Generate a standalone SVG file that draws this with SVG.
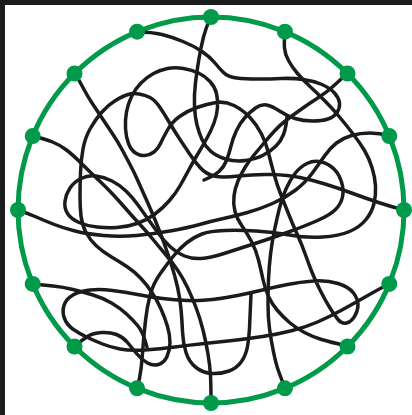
<svg xmlns="http://www.w3.org/2000/svg" width="412" height="415" viewBox="0 0 412 415">
<style>
.ring{fill:none;stroke:#009a4a;stroke-width:5}
.dot{fill:#009a4a}
.cv{fill:none;stroke:#1b1b1b;stroke-width:3.5;stroke-linecap:round;stroke-linejoin:round}
</style>
<rect x="0" y="0" width="412" height="415" fill="#ffffff"/>
<rect x="0" y="0" width="412" height="5" fill="#1c1c1c"/>
<rect x="0" y="0" width="5" height="415" fill="#1c1c1c"/>
<circle class="ring" cx="211" cy="210" r="193"/>
<g id="connectors">
<path class="cv" d="M33,136 Q45,139 52.5,142 Q60,145 66.5,150 Q73,155 81.5,163.5 Q90,172 98.5,180 Q107,188 113.5,195 Q120,202 126.5,209.5 Q133,217 140,224.5 Q147,232 153.5,240 Q160,248 166,255 Q172,262 177.5,270 Q183,278 187.5,287.5 Q192,297 196,307.5 Q200,318 203,330 Q206,342 208,354 Q210,366 210.5,376 Q211,386 211,403"/>
<path class="cv" d="M137,32 Q152,32 162,34.5 Q172,37 183,41.5 Q194,46 202,51.5 Q210,57 214.5,62.5 Q219,68 223.5,72.5 Q228,77 236.5,78 Q245,79 257.5,79 Q270,79 281.5,78.5 Q293,78 303.5,79.5 Q314,81 322,84.5 Q330,88 334.5,93 Q339,98 339.5,103 Q340,108 337,112.5 Q334,117 328,119 Q322,121 312.5,121 Q303,121 295,118.5 Q287,116 279.5,111 Q272,106 266.5,105 Q261,104 255.5,108 Q250,112 245,117.5 Q240,123 236.5,130.5 Q233,138 231,146 Q229,154 226.5,160.5 Q224,167 219,171.5 Q214,176 204,180"/>
<path class="cv" d="M211,17 Q206,27 203.5,37 Q201,47 199,58.5 Q197,70 195.5,82.5 Q194,95 194.5,106 Q195,117 197,125 Q199,133 202,139.5 Q205,146 210.5,151 Q216,156 225.5,159 Q235,162 245.5,160.5 Q256,159 263.5,155 Q271,151 276,146 Q281,141 283.5,134.5 Q286,128 287,117"/>
<path class="cv" d="M347,74 Q340,80 333.5,86 Q327,92 318.5,97.5 Q310,103 301.5,109 Q293,115 286.5,120 Q280,125 274.5,131 Q269,137 264,143 Q259,149 254,155 Q249,161 245,167.5 Q241,174 238,181 Q235,188 234,196 Q233,204 235,211.5 Q237,219 242,226 Q247,233 251.5,241.5 Q256,250 258.5,260 Q261,270 263,279.5 Q265,289 268.5,296.5 Q272,304 277.5,310.5 Q283,317 289.5,322.5 Q296,328 304.5,332.5 Q313,337 321.5,339.5 Q330,342 347,346"/>
<path class="cv" d="M75,346 Q82,340 87.5,336.5 Q93,333 101.5,332.5 Q110,332 116.5,334.5 Q123,337 127.5,342.5 Q132,348 137,354 Q142,360 147.5,363 Q153,366 158.5,364.5 Q164,363 167,356.5 Q170,350 170,342.5 Q170,335 167.5,326.5 Q165,318 161,309 Q157,300 152,292.5 Q147,285 141,278.5 Q135,272 127.5,267 Q120,262 111.5,257 Q103,252 96.5,246 Q90,240 86,232.5 Q82,225 81,216 Q80,207 80,196 Q80,185 80.5,172.5 Q81,160 83,149 Q85,138 90,129 Q95,120 101.5,112.5 Q108,105 115.5,100.5 Q123,96 128,94.5 Q133,93 139,94 Q145,95 150,97.5 Q155,100 160,107.5 Q165,115 170,123.5 Q175,132 180,139.5 Q185,147 190,154.5 Q195,162 200.5,168 Q206,174 214,176 Q222,178 238.5,176 Q255,174 271.5,174.5 Q288,175 300,177.5 Q312,180 325,184 Q338,188 351.5,193 Q365,198 378.5,202.5 Q392,207 404,210"/>
<path class="cv" d="M389,284 Q379,289 366,296.5 Q353,304 341,310.5 Q329,317 317.5,322 Q306,327 292.5,330.5 Q279,334 262.5,336.5 Q246,339 232.5,340.5 Q219,342 204.5,343.5 Q190,345 175,347 Q160,349 145,350 Q130,351 120,349 Q110,347 102.5,344 Q95,341 87.5,337.5 Q80,334 73.5,329.5 Q67,325 64.5,318.5 Q62,312 64,305.5 Q66,299 73,295 Q80,291 90,290 Q100,289 112.5,290.5 Q125,292 137.5,294.5 Q150,297 162.5,298.5 Q175,300 187.5,300.5 Q200,301 212.5,299.5 Q225,298 237.5,295.5 Q250,293 262.5,290 Q275,287 287.5,284.5 Q300,282 313.5,281 Q327,280 338,283.5 Q349,287 353.5,293 Q358,299 358,305 Q358,311 354.5,316.5 Q351,322 346.5,323 Q342,324 338.5,320 Q335,316 330,308 Q325,300 320,290 Q315,280 311.5,271 Q308,262 305,253.5 Q302,245 297.5,235 Q293,225 289,215 Q285,205 281,195 Q277,185 274,174 Q271,163 268.5,153 Q266,143 261.5,134 Q257,125 250,117.5 Q243,110 234,105.5 Q225,101 216,102.5 Q207,104 197,107.5 Q187,111 179.5,116.5 Q172,122 167.5,130 Q163,138 160.5,143.5 Q158,149 154,152 Q150,155 145,155.5 Q140,156 135.5,153 Q131,150 128.5,143.5 Q126,137 125.5,128.5 Q125,120 126.5,112 Q128,104 131.5,96.5 Q135,89 141,83 Q147,77 153.5,73.5 Q160,70 167.5,68.5 Q175,67 183.5,68.5 Q192,70 198.5,73 Q205,76 210,81.5 Q215,87 216.5,93.5 Q218,100 217.5,107.5 Q217,115 214,123 Q211,131 206.5,139 Q202,147 197.5,154.5 Q193,162 189,169.5 Q185,177 180.5,185 Q176,193 169.5,200.5 Q163,208 155,214 Q147,220 137,223.5 Q127,227 117,227.5 Q107,228 97,227 Q87,226 79,222.5 Q71,219 67.5,213.5 Q64,208 65,201 Q66,194 70,188 Q74,182 81,178.5 Q88,175 96,176 Q104,177 112,181 Q120,185 126.5,191.5 Q133,198 138,205 Q143,212 148,219 Q153,226 158.5,233.5 Q164,241 170.5,247 Q177,253 184.5,256 Q192,259 201,258.5 Q210,258 224,253.5 Q238,249 255,243.5 Q272,238 288.5,232 Q305,226 317.5,220.5 Q330,215 335.5,209.5 Q341,204 342.5,197 Q344,190 341.5,182 Q339,174 334,169 Q329,164 321.5,162 Q314,160 307,163.5 Q300,167 295,173.5 Q290,180 286,189 Q282,198 279.5,208 Q277,218 274.5,230 Q272,242 270.5,254.5 Q269,267 268.5,279.5 Q268,292 268,304.5 Q268,317 269.5,328.5 Q271,340 273.5,352 Q276,364 278.5,371 Q281,378 285,388"/>
<path class="cv" d="M137,388 Q140,378 141,369 Q142,360 143,347 Q144,334 145.5,320.5 Q147,307 150,295.5 Q153,284 160,274 Q167,264 173.5,256 Q180,248 187,242.5 Q194,237 202,234 Q210,231 224.5,230.5 Q239,230 256,231 Q273,232 289.5,235 Q306,238 322.5,237 Q339,236 349.5,231.5 Q360,227 366,219.5 Q372,212 374,203.5 Q376,195 375.5,186 Q375,177 372,167.5 Q369,158 364.5,150.5 Q360,143 353.5,134.5 Q347,126 339.5,117 Q332,108 324.5,100.5 Q317,93 310,86.5 Q303,80 297.5,73.5 Q292,67 288.5,60.5 Q285,54 284.5,48 Q284,42 285,32"/>
<path class="cv" d="M389,136 Q380,133 370,133 Q360,133 351.5,135.5 Q343,138 336.5,143 Q330,148 324.5,156 Q319,164 312,173.5 Q305,183 295,190.5 Q285,198 272.5,203.5 Q260,209 247.5,212.5 Q235,216 223.5,218.5 Q212,221 199.5,224.5 Q187,228 170,231 Q153,234 136.5,235.5 Q120,237 103.5,235.5 Q87,234 75,231 Q63,228 53,224 Q43,220 35,216.5 Q27,213 18,210"/>
<path class="cv" d="M33,284 Q43,285 53,286 Q63,287 73,289.5 Q83,292 93,295 Q103,298 111.5,303 Q120,308 126.5,314 Q133,320 138,326 Q143,332 147,347"/>
<path class="cv" d="M75,73 Q80,82 84,89.5 Q88,97 93,104.5 Q98,112 103,119.5 Q108,127 113,134.5 Q118,142 122,149.5 Q126,157 130,164.5 Q134,172 138,181 Q142,190 146.5,200 Q151,210 155.5,221 Q160,232 164,243 Q168,254 171.5,265 Q175,276 177.5,287 Q180,298 181,309 Q182,320 182.5,331.5 Q183,343 186,352.5 Q189,362 196,367.5 Q203,373 212,373.5 Q221,374 229,371 Q237,368 241.5,361.5 Q246,355 247.5,346.5 Q249,338 249.5,328 Q250,318 251,294"/>
</g>
<g id="n0"><circle class="dot" cx="211" cy="17" r="8"/></g>
<g id="n1"><circle class="dot" cx="284.9" cy="31.7" r="8"/></g>
<g id="n2"><circle class="dot" cx="347.5" cy="73.5" r="8"/></g>
<g id="n3"><circle class="dot" cx="389.3" cy="136.1" r="8"/></g>
<g id="n4"><circle class="dot" cx="404" cy="210" r="8"/></g>
<g id="n5"><circle class="dot" cx="389.3" cy="283.9" r="8"/></g>
<g id="n6"><circle class="dot" cx="347.5" cy="346.5" r="8"/></g>
<g id="n7"><circle class="dot" cx="284.9" cy="388.3" r="8"/></g>
<g id="n8"><circle class="dot" cx="211" cy="403" r="8"/></g>
<g id="n9"><circle class="dot" cx="137.1" cy="388.3" r="8"/></g>
<g id="n10"><circle class="dot" cx="74.5" cy="346.5" r="8"/></g>
<g id="n11"><circle class="dot" cx="32.7" cy="283.9" r="8"/></g>
<g id="n12"><circle class="dot" cx="18" cy="210" r="8"/></g>
<g id="n13"><circle class="dot" cx="32.7" cy="136.1" r="8"/></g>
<g id="n14"><circle class="dot" cx="74.5" cy="73.5" r="8"/></g>
<g id="n15"><circle class="dot" cx="137.1" cy="31.7" r="8"/></g>
</svg>
